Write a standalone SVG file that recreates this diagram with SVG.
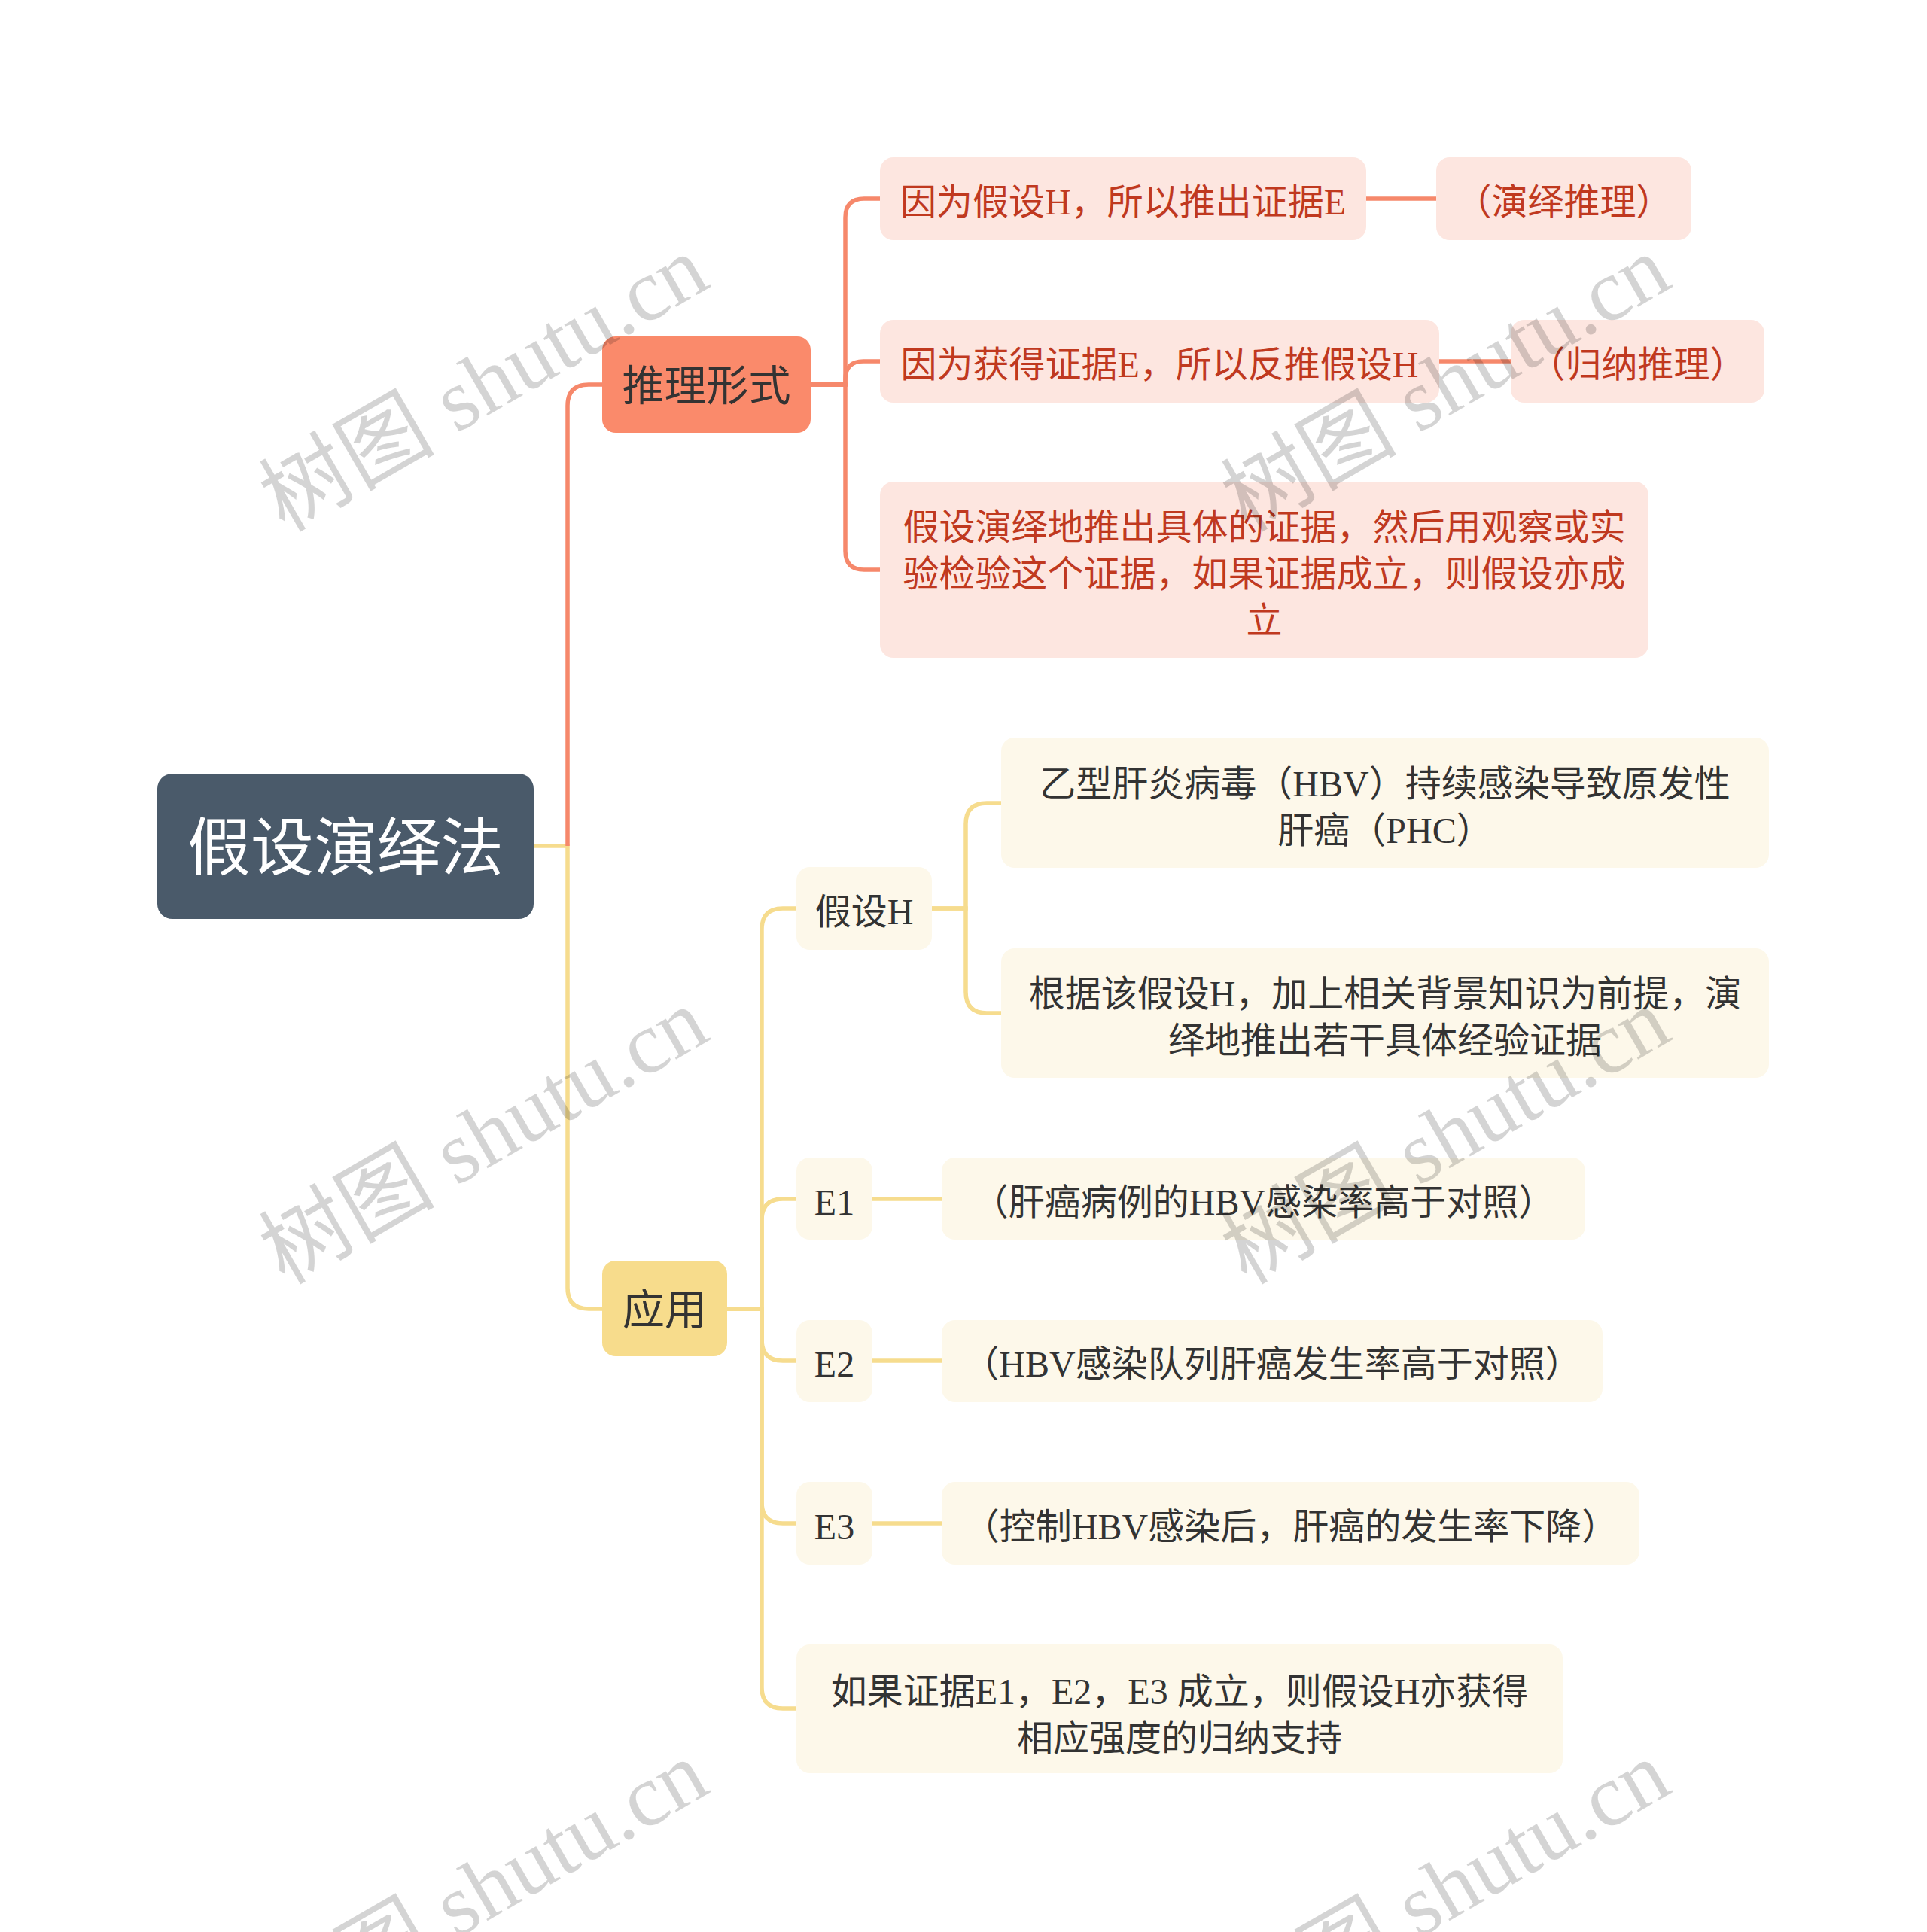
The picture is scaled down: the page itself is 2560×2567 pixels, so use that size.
<svg xmlns="http://www.w3.org/2000/svg" width="2560" height="2567" viewBox="0 0 2560 2567">
<style>
text{font-family:"Liberation Serif","Noto Sans CJK SC",sans-serif;text-anchor:middle}
.root rect{fill:#4a5a6a}
.root text{fill:#ffffff;font-size:84px;font-family:"Noto Sans CJK SC",sans-serif}
.l1r rect{fill:#fa8a6b}
.l1y rect{fill:#f7dc8c}
.l1 text{fill:#333333;font-size:56px;font-family:"Noto Sans CJK SC",sans-serif}
.pk rect{fill:#fde6e0}
.pk text{fill:#c0391f;font-size:48px}
.cr rect{fill:#fdf8ea}
.cr text{fill:#333333;font-size:48px}
.cn path{fill:none;stroke-width:5.5;stroke-linecap:butt}
.cn .r{stroke:#f6886b}
.cn .y{stroke:#f6dc8e}
.wm text{font-family:"Liberation Serif","Noto Sans CJK SC",serif;font-size:117px;fill:#000000;fill-opacity:0.17;text-anchor:start}
</style>
<g id="connectors" class="cn">
<path class="y" d="M709,1124 H754 V1711 Q754,1739 782,1739 H800"/>
<path class="r" d="M754,1124 V539 Q754,511 782,511 H800"/>
<path class="r" d="M1077,511 H1123 V289 Q1123,264 1148,264 H1169"/>
<path class="r" d="M1077,511 H1123 V504 Q1123,480 1147,480 H1169"/>
<path class="r" d="M1077,511 H1123 V732 Q1123,757 1148,757 H1169"/>
<path class="r" d="M1815,264 H1908"/>
<path class="r" d="M1912,480 H2007"/>
<path class="y" d="M966,1739 H1012 V1235 Q1012,1207 1040,1207 H1058"/>
<path class="y" d="M966,1739 H1012 V1621 Q1012,1593 1040,1593 H1058"/>
<path class="y" d="M966,1739 H1012 V1780 Q1012,1808 1040,1808 H1058"/>
<path class="y" d="M966,1739 H1012 V1996 Q1012,2024 1040,2024 H1058"/>
<path class="y" d="M966,1739 H1012 V2242 Q1012,2270 1040,2270 H1058"/>
<path class="y" d="M1238,1207 H1283 V1095 Q1283,1067 1311,1067 H1330"/>
<path class="y" d="M1238,1207 H1283 V1318 Q1283,1346 1311,1346 H1330"/>
<path class="y" d="M1159,1593 H1251"/>
<path class="y" d="M1159,1808 H1251"/>
<path class="y" d="M1159,2024 H1251"/>
</g>
<g id="root" class="root"><rect x="209" y="1028" width="500" height="193" rx="20"/><text x="459" y="1156">假设演绎法</text></g>
<g id="n-tuili" class="l1 l1r"><rect x="800" y="447" width="277" height="128" rx="18"/><text x="938.5" y="532">推理形式</text></g>
<g id="n-yingyong" class="l1 l1y"><rect x="800" y="1675" width="166" height="127" rx="18"/><text x="883" y="1760">应用</text></g>
<g id="n-r1" class="pk"><rect x="1169" y="209" width="646" height="110" rx="18"/><text x="1492" y="285">因为假设H，所以推出证据E</text></g>
<g id="n-r1b" class="pk"><rect x="1908" y="209" width="339" height="110" rx="18"/><text x="2077.5" y="285">（演绎推理）</text></g>
<g id="n-r2" class="pk"><rect x="1169" y="425" width="743" height="110" rx="18"/><text x="1540.5" y="501">因为获得证据E，所以反推假设H</text></g>
<g id="n-r2b" class="pk"><rect x="2007" y="425" width="337" height="110" rx="18"/><text x="2175.5" y="501">（归纳推理）</text></g>
<g id="n-r3" class="pk"><rect x="1169" y="640" width="1021" height="234" rx="18"/><text x="1679.5" y="717">假设演绎地推出具体的证据，然后用观察或实</text><text x="1679.5" y="779">验检验这个证据，如果证据成立，则假设亦成</text><text x="1679.5" y="841">立</text></g>
<g id="n-jiasheH" class="cr"><rect x="1058" y="1152" width="180" height="110" rx="18"/><text x="1148" y="1228">假设H</text></g>
<g id="n-h1" class="cr"><rect x="1330" y="980" width="1020" height="173" rx="18"/><text x="1840" y="1058">乙型肝炎病毒（HBV）持续感染导致原发性</text><text x="1840" y="1120">肝癌（PHC）</text></g>
<g id="n-h2" class="cr"><rect x="1330" y="1260" width="1020" height="172" rx="18"/><text x="1840" y="1337">根据该假设H，加上相关背景知识为前提，演</text><text x="1840" y="1399">绎地推出若干具体经验证据</text></g>
<g id="n-e1" class="cr"><rect x="1058" y="1538" width="101" height="109" rx="18"/><text x="1108.5" y="1614">E1</text></g>
<g id="n-e1c" class="cr"><rect x="1251" y="1538" width="855" height="109" rx="18"/><text x="1678.5" y="1614">（肝癌病例的HBV感染率高于对照）</text></g>
<g id="n-e2" class="cr"><rect x="1058" y="1754" width="101" height="109" rx="18"/><text x="1108.5" y="1829">E2</text></g>
<g id="n-e2c" class="cr"><rect x="1251" y="1754" width="878" height="109" rx="18"/><text x="1690" y="1829">（HBV感染队列肝癌发生率高于对照）</text></g>
<g id="n-e3" class="cr"><rect x="1058" y="1969" width="101" height="110" rx="18"/><text x="1108.5" y="2045">E3</text></g>
<g id="n-e3c" class="cr"><rect x="1251" y="1969" width="927" height="110" rx="18"/><text x="1714.5" y="2045">（控制HBV感染后，肝癌的发生率下降）</text></g>
<g id="n-ifE" class="cr"><rect x="1058" y="2185" width="1018" height="171" rx="18"/><text x="1567" y="2264">如果证据E1，E2，E3 成立，则假设H亦获得</text><text x="1567" y="2326">相应强度的归纳支持</text></g>
<g id="watermarks" class="wm">
<text transform="translate(378,708) rotate(-30)">树图 shutu.cn</text>
<text transform="translate(1656,708) rotate(-30)">树图 shutu.cn</text>
<text transform="translate(378,1708) rotate(-30)">树图 shutu.cn</text>
<text transform="translate(1656,1708) rotate(-30)">树图 shutu.cn</text>
<text transform="translate(378,2708) rotate(-30)">树图 shutu.cn</text>
<text transform="translate(1656,2708) rotate(-30)">树图 shutu.cn</text>
</g>
</svg>
